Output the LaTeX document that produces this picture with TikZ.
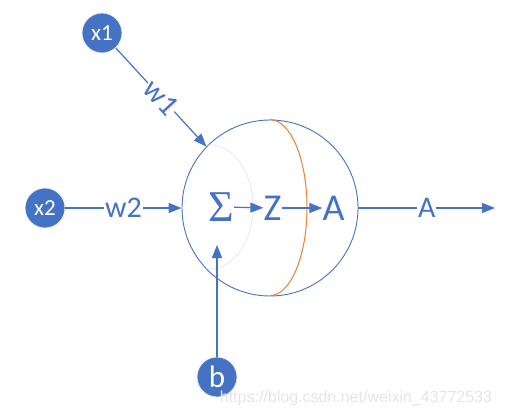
\documentclass[tikz,border=0pt]{standalone}
\usepackage{fontspec}
\setmainfont{Carlito}
\newfontfamily\urlfont{Liberation Sans}
\newfontfamily\sigmafont{Liberation Serif}
\usetikzlibrary{arrows.meta}
\definecolor{nblue}{HTML}{4472C4}
\definecolor{norange}{HTML}{ED7D31}
\definecolor{shadeline}{HTML}{E3E8F2}

\begin{document}
\begin{tikzpicture}[x=1pt,y=-1pt]
\tikzstyle{input} = [circle, fill=nblue, draw=white!85!gray, line width=0.8pt,
minimum size=40pt, inner sep=0pt, text=white, font=\fontsize{23}{23}\selectfont]
\tikzstyle{sym} = [inner sep=0pt, text=nblue, font=\fontsize{38}{38}\selectfont]
\tikzstyle{wlabel} = [fill=white, inner sep=1pt, text=nblue, font=\fontsize{30}{30}\selectfont]
\tikzstyle{line} = [draw=nblue, line width=1.2pt, -{Triangle[length=13pt,width=10pt]}];
\useasboundingbox (0,0) rectangle (506,418);
% neuron
\node [circle, draw=nblue, line width=0.9pt, minimum size=176pt, inner sep=0pt] (neuron) at (270,208) {};
\begin{scope}
\clip (270,208) circle[radius=88pt];
\draw [shadeline, line width=0.8pt] (210,207) ellipse[x radius=43pt, y radius=62pt];
\end{scope}
\draw [norange, line width=1pt] (neuron.north) arc[start angle=90, end angle=-90, x radius=37pt, y radius=88pt];
\node [sym, font=\sigmafont\fontsize{44}{44}\selectfont] (sigma) at (221,207) {Σ};
\node [sym] (z) at (272.5,208) {Z};
\node [sym] (a) at (333.5,208) {A};
% inputs
\node [input] (x1) at (102,33) {x1};
\node [input] (x2) at (45,208) {x2};
\node [input, font=\fontsize{31}{31}\selectfont] (b) at (217,377) {b};
\coordinate (bin) at (217,245);
\coordinate (out) at (495,208);
\tikzstyle{every path}=[line]
\path (sigma) -- (z);
\path (z) -- (a);
\path (x1) -- node [wlabel, sloped] {w1} (neuron.136);
\path (x2) -- node [wlabel] {w2} (neuron.west);
\path (b) -- (bin);
\path (neuron.east) -- node [wlabel] {A} (out);
\node [text=black!10, font=\urlfont\fontsize{16}{16}\selectfont, anchor=east] (mark) at (496,398) {https://blog.csdn.net/weixin\_43772533};
\end{tikzpicture}
\end{document}
